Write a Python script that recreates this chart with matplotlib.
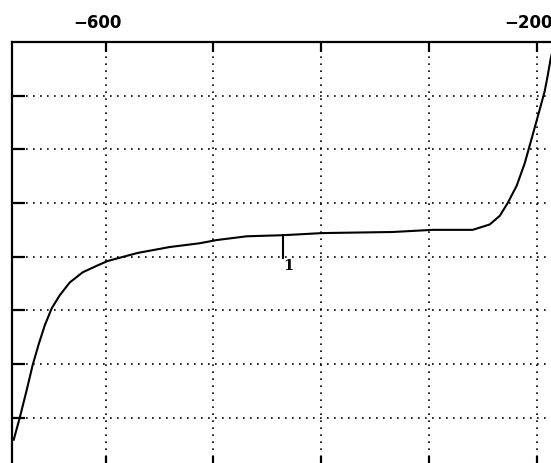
import matplotlib
matplotlib.use("Agg")
import matplotlib.pyplot as plt
from matplotlib.transforms import ScaledTranslation

# Curve data (potential, arbitrary y units)
potential = [-685.4, -679.8, -673.3, -667.7, -662.2, -656.6, -650.1, -642.7,
             -633.4, -621.3, -608.4, -598.1, -587.0, -570.3, -540.6, -512.8,
             -497.0, -469.1, -435.7, -398.6, -333.6, -296.5, -259.4, -243.6,
             -234.3, -226.9, -218.6, -211.1, -206.5, -201.9, -197.2, -192.6,
             -189.8, -187.0, -182.4]
response = [-0.41, 0.00, 0.52, 0.99, 1.37, 1.72, 2.04, 2.28,
            2.52, 2.71, 2.83, 2.92, 2.98, 3.07, 3.18, 3.25,
            3.31, 3.38, 3.40, 3.44, 3.46, 3.50, 3.50, 3.60,
            3.76, 4.00, 4.32, 4.74, 5.07, 5.40, 5.74, 6.08,
            6.37, 6.69, 7.07]

xticks = [-600, -500, -400, -300, -200]
xticklabels = ["\u2212600", "", "", "", "\u2212200"]
yticks = [0, 1, 2, 3, 4, 5, 6]

marker_x = -435.7
marker_top = 3.40
marker_bottom = 2.97
marker_label = "1"

W, H = 551, 463
fig = plt.figure(figsize=(W / 100, H / 100), dpi=100)
left_px, right_px, top_px, bottom_px = 12, 569, 42, 466
ax = fig.add_axes([left_px / W, (H - bottom_px) / H,
                   (right_px - left_px) / W, (bottom_px - top_px) / H])
ax.set_xlim(-687, -170)
ax.set_ylim(-0.9, 7)

ax.plot(potential, response, color="black", lw=1.5, solid_joinstyle="round")
ax.plot([marker_x, marker_x], [marker_top, marker_bottom], color="black", lw=1.5)
ax.text(marker_x + 5, marker_bottom - 0.02, marker_label, ha="center", va="top",
        fontsize=10.5, fontweight="bold", family="DejaVu Serif")

ax.set_xticks(xticks)
ax.set_xticklabels(xticklabels)
ax.set_yticks(yticks)
ax.set_yticklabels([])
ax.grid(True, color="black", linestyle=(0, (1, 3.2)), linewidth=1.2)

ax.tick_params(axis="x", direction="in", length=7.2, width=1.6, top=True, bottom=True,
               labeltop=True, labelbottom=False, pad=7, labelsize=12)
ax.tick_params(axis="y", direction="in", length=9, width=1.6, left=True, right=False)
for lab in ax.get_xticklabels():
    lab.set_fontweight("bold")
    lab.set_transform(lab.get_transform() + ScaledTranslation(-8 / 100, 0, fig.dpi_scale_trans))

for s in ax.spines.values():
    s.set_linewidth(1.6)

fig.savefig("out.png", dpi=100)
